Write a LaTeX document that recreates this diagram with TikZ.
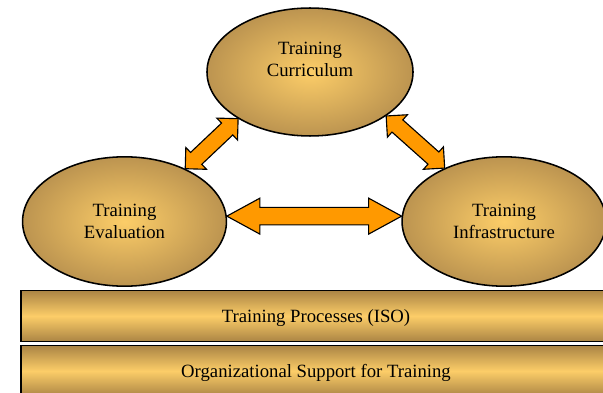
\documentclass[tikz,border=0pt]{standalone}
\usepackage{fontspec}
\setmainfont{Liberation Serif}
\usepackage{tikz}
\usetikzlibrary{calc}
\usetikzlibrary{shapes.geometric}
\usepackage{color}
\definecolor{goldlight}{RGB}{252, 205, 104}
\definecolor{golddark}{RGB}{188, 148, 80}
\definecolor{bardark}{RGB}{170, 132, 68}
\definecolor{tangerine}{RGB}{255, 153, 0}

% double block arrow: from, to, head length, head half width, shaft half width
\newcommand{\dblarrow}[5]{%
  \coordinate (ha) at ($(#1)!#3!(#2)$);
  \coordinate (hb) at ($(#2)!#3!(#1)$);
  \filldraw[arrowbody] (#1) -- ($(ha)!#4!90:(#2)$)  -- ($(ha)!#5!90:(#2)$)
                            -- ($(hb)!#5!-90:(#1)$) -- ($(hb)!#4!-90:(#1)$) -- (#2)
                            -- ($(hb)!#4!90:(#1)$)  -- ($(hb)!#5!90:(#1)$)
                            -- ($(ha)!#5!-90:(#2)$) -- ($(ha)!#4!-90:(#2)$) -- cycle;}

\begin{document}
\begin{tikzpicture}[x=0.025cm, y=-0.025cm,
    txt/.style={font=\fontsize{13.3pt}{15.5pt}\selectfont, align=center},
    bubble/.style={ellipse, draw, line width=1.1pt, inner sep=0pt,
                   inner color=goldlight, outer color=golddark, txt},
    layer/.style={rectangle, draw, line width=1pt, inner sep=0pt, text depth=0pt,
                  minimum width=419.3pt, minimum height=36.5pt,
                  top color=bardark, bottom color=bardark, middle color=goldlight, txt},
    arrowbody/.style={draw=black, line width=0.8pt, fill=tangerine, line join=miter}]
  \clip (0,0) rectangle (603,393);

  % base layers
  \node[layer] (proc)    at (316.0, 316.0) {Training Processes (ISO)};
  \node[layer] (support) at (316.0, 371.0) {Organizational Support for Training};

  % the three parts
  \node[bubble, minimum width=146.5pt, minimum height=91pt,
        label={[txt, yshift=9pt]center:{Training\\Curriculum}}] (cur)   at (310.0,  72.0) {};
  \node[bubble, minimum width=145.0pt, minimum height=92pt]      (eval)  at (124.5, 221.5) {Training\\Evaluation};
  \node[bubble, minimum width=145.0pt, minimum height=92pt]      (infra) at (504.0, 221.5) {Training\\Infrastructure};

  % links
  \dblarrow{eval.41}{cur.213}{10.7pt}{10.7pt}{5.8pt}
  \dblarrow{cur.-30}{infra.138}{10.7pt}{10.7pt}{5.8pt}
  \dblarrow{eval.3}{infra.177}{23.5pt}{12.8pt}{6.2pt}
\end{tikzpicture}
\end{document}
